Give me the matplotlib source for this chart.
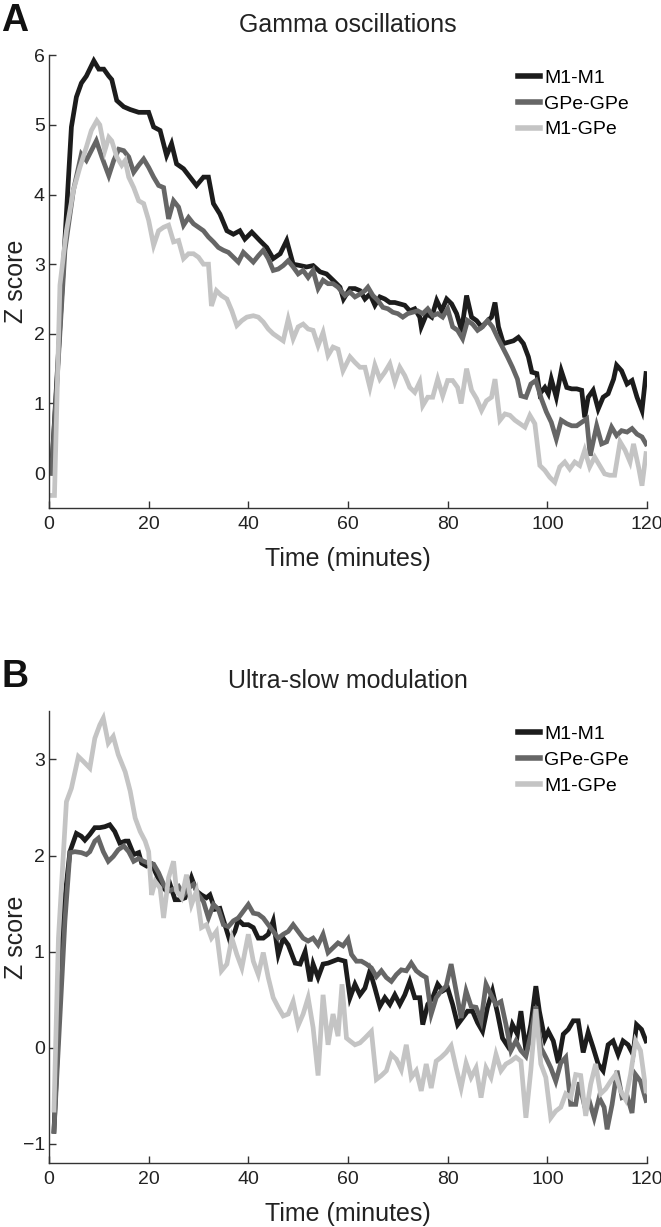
import matplotlib
matplotlib.use("Agg")
import matplotlib.pyplot as plt

plt.rcParams['font.family'] = ['Liberation Sans', 'DejaVu Sans']

# (minutes, z score)
gamma_m1m1 = [(0.5, 0.0), (4.5, 4.97), (5.5, 5.4), (6.5, 5.6), (7.5, 5.7), (9, 5.92), (10, 5.8), (11, 5.8),
              (12, 5.7), (12.6, 5.65), (13.6, 5.35), (15, 5.26), (16.3, 5.22), (18, 5.18), (20, 5.18),
              (21, 4.97), (22.3, 4.92), (23.6, 4.56), (24.6, 4.73), (25.6, 4.44), (27, 4.37), (28.3, 4.25),
              (29.6, 4.13), (31, 4.25), (32, 4.25), (33, 3.87), (34.3, 3.72), (35.7, 3.48), (37, 3.43),
              (38.3, 3.48), (39.3, 3.36), (40.7, 3.46), (42.3, 3.34), (43.7, 3.24), (45, 3.08), (46.4, 3.15),
              (47.7, 3.34), (49, 3.0), (50.4, 2.98), (51.7, 2.96), (53, 2.98), (54.4, 2.89), (55.7, 2.86),
              (57, 2.77), (58.4, 2.67), (59.1, 2.5), (60.4, 2.65), (61.4, 2.65), (62.4, 2.62), (63.4, 2.5),
              (64.4, 2.57), (65.4, 2.41), (66.4, 2.53), (67.4, 2.5), (68.4, 2.45), (69.4, 2.45), (70.4, 2.43),
              (71.4, 2.41), (72.4, 2.33), (73.4, 2.36), (74.4, 2.24), (74.7, 2.1), (75.8, 2.29), (76.8, 2.24),
              (77.8, 2.48), (78.8, 2.33), (79.8, 2.5), (80.8, 2.43), (81.8, 2.29), (82.8, 2.05), (83.8, 2.55),
              (84.8, 2.24), (85.8, 2.19), (86.8, 2.1), (87.8, 2.17), (88.8, 2.24), (89.5, 2.45), (90.2, 2.1),
              (91.2, 1.86), (92.2, 1.88), (93.2, 1.9), (94.2, 1.95), (95.2, 1.86), (96.2, 1.67), (96.9, 1.45),
              (97.9, 1.43), (98.5, 1.14), (99.5, 1.23), (100.2, 1.14), (100.8, 1.35), (101.8, 1.09),
              (102.8, 1.47), (103.9, 1.23), (104.9, 1.21), (105.9, 1.21), (106.9, 1.19), (107.5, 0.8),
              (108.2, 1.09), (109.2, 1.19), (110.2, 0.92), (111.2, 1.09), (112.2, 1.14), (113.3, 1.35),
              (113.9, 1.55), (114.9, 1.47), (116, 1.28), (117, 1.33), (118, 1.09), (119, 0.9), (119.8, 1.43)]

gamma_gpe = [(0.5, 0.0), (3.2, 3.2), (4.9, 4.06), (6.5, 4.58), (7.5, 4.49), (8.5, 4.63), (9.5, 4.77),
             (10.6, 4.54), (12, 4.27), (13, 4.49), (14, 4.65), (15, 4.63), (16, 4.54), (17, 4.32), (18, 4.42),
             (19, 4.51), (20, 4.39), (21, 4.25), (22, 4.13), (23, 4.1), (24, 3.65), (25, 3.91), (26, 3.82),
             (27, 3.56), (28, 3.67), (29, 3.58), (30, 3.53), (31, 3.48), (32, 3.39), (33, 3.32), (34, 3.24),
             (35, 3.2), (36, 3.17), (37, 3.1), (38, 3.03), (39, 3.17), (40, 3.1), (41, 3.03), (42, 3.12),
             (43, 3.2), (44, 3.08), (45, 2.91), (46, 2.93), (47, 2.98), (48, 3.05), (49, 2.96), (50, 2.86),
             (51, 2.91), (52, 2.81), (53, 2.91), (54, 2.65), (55, 2.77), (56, 2.72), (57, 2.72), (58, 2.67),
             (59.4, 2.55), (60.4, 2.6), (61.4, 2.53), (62.4, 2.57), (63.4, 2.62), (64, 2.67), (65, 2.55),
             (66, 2.48), (67, 2.38), (68, 2.36), (69, 2.31), (70, 2.29), (71, 2.24), (72, 2.29), (73, 2.31),
             (74, 2.33), (75, 2.29), (76, 2.36), (77, 2.26), (78, 2.29), (79, 2.24), (80, 2.36), (81, 2.1),
             (82, 2.05), (83, 1.93), (84, 2.19), (85, 2.14), (86, 2.05), (87, 2.1), (88, 2.19), (89, 2.1),
             (90, 1.95), (91, 1.81), (92, 1.67), (93, 1.52), (94, 1.35), (94.7, 1.11), (95.7, 1.09),
             (96.7, 1.28), (97.7, 1.33), (98.8, 1.07), (99.8, 0.88), (100.8, 0.73), (101.8, 0.49),
             (102.8, 0.76), (103.9, 0.71), (104.9, 0.68), (105.9, 0.68), (106.9, 0.73), (107.9, 0.78),
             (108.6, 0.25), (109.2, 0.45), (109.9, 0.68), (110.9, 0.42), (111.9, 0.45), (112.9, 0.66),
             (113.9, 0.54), (114.9, 0.61), (116, 0.59), (117, 0.64), (118, 0.56), (119, 0.52), (119.8, 0.42)]

gamma_cross = [(0.5, -0.32), (1.1, -0.32), (2.2, 2.7), (3.5, 3.48), (4.9, 4.06), (6.2, 4.39), (7.5, 4.68),
               (8.5, 4.92), (9.6, 5.06), (10.2, 5.0), (11.2, 4.63), (12, 4.82), (12.6, 4.77), (13.6, 4.54),
               (14.6, 4.42), (15.3, 4.49), (16, 4.25), (17, 4.1), (18, 3.91), (19, 3.87), (20, 3.63),
               (21, 3.27), (22, 3.48), (23, 3.53), (24, 3.56), (25, 3.32), (26, 3.34), (27, 3.08), (28, 3.15),
               (29, 3.15), (30, 3.1), (31, 3.0), (32, 3.0), (32.6, 2.4), (33.6, 2.62), (34.6, 2.55),
               (35.7, 2.5), (36.7, 2.33), (37.7, 2.12), (38.7, 2.19), (39.7, 2.24), (41, 2.26), (42, 2.24),
               (43, 2.17), (44, 2.07), (45, 2.0), (46, 1.95), (47, 1.9), (48, 2.21), (49, 1.93), (50, 2.1),
               (51, 2.14), (52, 2.07), (53, 2.05), (54, 1.83), (55, 2.02), (56, 1.69), (57, 1.81), (58, 1.78),
               (59, 1.47), (60.4, 1.67), (61.4, 1.59), (62.4, 1.52), (63.4, 1.52), (64.4, 1.23), (65.4, 1.55),
               (66.4, 1.35), (67.4, 1.45), (68.4, 1.57), (69.4, 1.31), (70.4, 1.52), (71.4, 1.4), (72.4, 1.23),
               (73.4, 1.16), (74.4, 1.31), (75, 0.97), (76, 1.09), (77, 1.09), (78, 1.35), (79, 1.11),
               (80, 1.33), (81, 1.33), (82, 1.23), (82.7, 1.0), (83.8, 1.5), (84.8, 1.19), (85.8, 1.07),
               (86.8, 0.9), (87.8, 1.04), (88.8, 1.09), (89.5, 1.35), (90.5, 0.76), (91.5, 0.85), (92.5, 0.83),
               (93.5, 0.76), (94.5, 0.71), (95.5, 0.66), (96.5, 0.83), (97.5, 0.71), (98.5, 0.11), (99.5, 0.04),
               (100.5, -0.06), (101.5, -0.13), (102.5, 0.09), (103.5, 0.16), (104.5, 0.06), (105.5, 0.16),
               (106.5, 0.11), (107.5, 0.33), (108.5, 0.09), (109.5, 0.23), (110.5, 0.11), (111.5, -0.01),
               (112.5, -0.03), (113.5, -0.03), (114.6, 0.45), (115.6, 0.33), (116.6, 0.16), (117.3, 0.42),
               (118.3, 0.09), (119, -0.18), (119.8, 0.28)]

slow_m1m1 = [(1, -0.87), (2.9, 1.42), (4.2, 2.04), (5.5, 2.23), (6.5, 2.2), (7.2, 2.16), (8.2, 2.22),
             (9.2, 2.29), (10.2, 2.29), (11.2, 2.3), (12.2, 2.32), (13.2, 2.25), (14.2, 2.13), (15.3, 2.15),
             (15.9, 2.15), (17, 2.01), (18, 2.03), (18.6, 1.92), (19.6, 1.89), (20.6, 1.91), (21.6, 1.8),
             (22.6, 1.68), (23.6, 1.63), (24.3, 1.7), (25.3, 1.54), (26.3, 1.54), (27.3, 1.56), (28.6, 1.77),
             (29.6, 1.63), (30.6, 1.59), (31.6, 1.56), (32.3, 1.59), (33.3, 1.44), (34.3, 1.45), (35.3, 1.28),
             (36.3, 1.11), (37.3, 1.21), (38, 1.33), (39, 1.28), (40, 1.28), (41, 1.25), (42, 1.14),
             (43, 1.14), (44, 1.18), (45, 1.32), (46, 0.97), (47, 1.14), (48, 1.07), (49.4, 0.88),
             (50.4, 0.87), (51.4, 1.0), (52.4, 0.69), (53, 0.87), (54, 0.73), (55, 0.87), (56, 0.88),
             (57, 0.9), (58, 0.92), (59.4, 0.9), (60.4, 0.52), (61.4, 0.66), (62.4, 0.55), (63.4, 0.62),
             (64.4, 0.8), (65.4, 0.62), (66.4, 0.43), (67.4, 0.52), (68.4, 0.45), (69.4, 0.55), (70.4, 0.45),
             (71.4, 0.55), (72.4, 0.69), (73.4, 0.52), (74.4, 0.52), (75, 0.24), (76, 0.45), (77, 0.52),
             (78, 0.66), (79, 0.59), (80, 0.62), (81, 0.45), (82, 0.24), (83, 0.31), (84, 0.38), (85, 0.38),
             (86, 0.26), (87, 0.17), (88, 0.42), (89, 0.59), (90, 0.36), (91, 0.1), (92, 0.02), (93, 0.24),
             (94, 0.14), (94.7, 0.38), (95.7, -0.03), (96.7, 0.24), (97.7, 0.64), (98.4, 0.38), (99.5, 0.09),
             (100.2, 0.17), (101.2, 0.07), (102.2, -0.16), (103.2, 0.14), (104.2, 0.19), (105.2, 0.28),
             (106.2, 0.28), (107.2, -0.05), (108.2, 0.16), (109.2, 0.0), (110.2, -0.17), (111.2, -0.24),
             (112.2, 0.03), (113.2, 0.07), (114.2, -0.07), (115.2, 0.07), (116.2, 0.03), (117.2, -0.07),
             (117.9, 0.24), (118.9, 0.19), (119.8, 0.07)]

slow_gpe = [(1, -0.87), (3.2, 1.32), (4.2, 2.03), (5.2, 2.04), (6.5, 2.03), (7.5, 2.01), (8.2, 2.04),
            (9.2, 2.15), (9.9, 2.18), (10.9, 2.04), (11.9, 1.94), (12.9, 1.99), (13.9, 2.06), (15, 2.1),
            (16, 2.04), (17, 1.94), (18, 1.97), (19, 1.94), (20, 1.92), (21, 1.91), (22, 1.82), (23, 1.7),
            (24, 1.63), (25, 1.65), (26, 1.68), (27, 1.59), (28, 1.66), (29, 1.7), (30, 1.59), (31, 1.52),
            (32, 1.35), (33, 1.49), (34, 1.44), (35, 1.28), (36, 1.26), (37, 1.32), (38, 1.35), (39, 1.42),
            (40, 1.49), (41, 1.4), (42, 1.39), (43, 1.35), (44, 1.28), (45, 1.21), (46, 1.14), (47, 1.18),
            (48, 1.21), (49, 1.28), (50, 1.21), (51, 1.14), (52, 1.11), (53, 1.14), (54, 1.07), (55, 1.18),
            (56, 0.99), (57, 1.04), (58, 1.09), (59, 1.06), (60, 1.13), (60.7, 0.97), (61.7, 0.9),
            (62.7, 0.9), (63.7, 0.87), (64.7, 0.83), (65.7, 0.74), (66.7, 0.8), (67.7, 0.73), (68.7, 0.69),
            (69.7, 0.76), (70.7, 0.81), (71.7, 0.8), (72.7, 0.88), (73.7, 0.8), (74.7, 0.76), (75.7, 0.73),
            (76.7, 0.35), (77.7, 0.52), (78.7, 0.59), (79.7, 0.64), (80.7, 0.87), (81.7, 0.59), (82.7, 0.31),
            (83.7, 0.59), (84.7, 0.43), (85.7, 0.42), (86.7, 0.28), (87.7, 0.66), (88.7, 0.55), (89.7, 0.45),
            (90.7, 0.48), (91.7, 0.24), (92.7, -0.03), (93.7, 0.07), (94.7, -0.03), (95.7, -0.09),
            (96.7, 0.14), (97.7, 0.43), (98.7, 0.0), (99.7, -0.1), (100.7, -0.21), (101.7, -0.35),
            (102.7, -0.16), (103.7, -0.1), (104.7, -0.59), (105.7, -0.59), (106.4, -0.36), (107.4, -0.59),
            (108.4, -0.55), (109.4, -0.73), (110.4, -0.52), (111.4, -0.62), (112, -0.85), (113, -0.59),
            (114, -0.24), (115, -0.52), (116, -0.5), (117, -0.68), (117.7, -0.28), (118.7, -0.35),
            (119.8, -0.55)]

slow_cross = [(1, -0.65), (1.9, 1.14), (3.5, 2.56), (4.5, 2.7), (5.9, 3.03), (6.9, 2.98), (8.2, 2.91),
              (9.2, 3.22), (10.2, 3.36), (10.9, 3.43), (11.9, 3.17), (12.9, 3.24), (13.9, 3.05), (15.3, 2.87),
              (16.3, 2.67), (17.3, 2.39), (18.3, 2.25), (19.3, 2.15), (20, 2.04), (20.6, 1.59), (21.3, 1.73),
              (22.3, 1.66), (23, 1.35), (24, 1.77), (25, 1.94), (25.6, 1.63), (26.6, 1.56), (27.6, 1.8),
              (28.6, 1.49), (29.6, 1.63), (30.6, 1.25), (31.6, 1.28), (32.6, 1.14), (33.6, 1.21), (34.6, 0.8),
              (35.7, 0.87), (36.7, 1.14), (37.7, 0.97), (38.7, 0.83), (40, 1.18), (41, 0.9), (42, 0.76),
              (43, 0.99), (44, 0.73), (45, 0.52), (46, 0.42), (47, 0.33), (48, 0.35), (49, 0.48), (50, 0.23),
              (51, 0.35), (52, 0.52), (53, 0.21), (54, -0.29), (55, 0.55), (56, 0.03), (57, 0.35), (58, 0.12),
              (58.8, 0.66), (59.7, 0.1), (60.4, 0.07), (61.4, 0.03), (62.4, 0.05), (63.4, 0.1), (64.7, 0.17),
              (65.7, -0.33), (66.7, -0.29), (67.7, -0.24), (68.7, -0.07), (69.7, -0.12), (70.7, -0.23),
              (71.7, 0.03), (72.7, -0.31), (73.7, -0.24), (74.7, -0.45), (75.7, -0.17), (76.7, -0.42),
              (77.7, -0.14), (78.7, -0.1), (79.7, -0.05), (80.7, 0.02), (81.7, -0.21), (82.7, -0.42),
              (83.7, -0.16), (84.7, -0.31), (85.7, -0.21), (86.7, -0.52), (87.7, -0.21), (88.7, -0.31),
              (89.7, -0.07), (90.7, -0.24), (91.7, -0.17), (92.7, -0.14), (93.7, -0.1), (94.7, -0.14),
              (95.7, -0.73), (96.7, -0.23), (97.7, 0.4), (98.7, -0.17), (99.7, -0.31), (100.7, -0.73),
              (101.7, -0.66), (102.7, -0.62), (103.7, -0.48), (104.7, -0.52), (105.7, -0.28), (106.7, -0.29),
              (107.7, -0.71), (108.7, -0.38), (109.7, -0.17), (110.7, -0.48), (111.7, -0.43), (112.7, -0.35),
              (113.7, -0.28), (114.7, -0.45), (115.7, -0.54), (116.7, -0.28), (117.7, 0.07), (118.7, -0.03),
              (119.8, -0.45)]

labels = ['M1-M1', 'GPe-GPe', 'M1-GPe']
colors = ['#1c1c1c', '#666666', '#c4c4c4']

panels = [
    ('A', 'Gamma oscillations', [gamma_m1m1, gamma_gpe, gamma_cross], (-0.5, 6), [0, 1, 2, 3, 4, 5, 6]),
    ('B', 'Ultra-slow modulation', [slow_m1m1, slow_gpe, slow_cross], (-1.2, 3.5), [-1, 0, 1, 2, 3]),
]
ax_rects = [[0.0741, 0.586, 0.9047, 0.369], [0.0741, 0.0522, 0.9047, 0.368]]
text_col = '#222222'

fig = plt.figure(figsize=(6.61, 12.27), dpi=100)

for (letter, title, series, ylim, yticks), rect in zip(panels, ax_rects):
    ax = fig.add_axes(rect)
    for data, lab, col in zip(series, labels, colors):
        t, z = zip(*data)
        ax.plot(t, z, color=col, lw=3.4, label=lab, solid_joinstyle='miter')
    ax.set_xlim(0, 120)
    ax.set_ylim(*ylim)
    ax.set_xticks([0, 20, 40, 60, 80, 100, 120])
    ax.set_yticks(yticks)
    ax.spines['top'].set_visible(False)
    ax.spines['right'].set_visible(False)
    for s in ('left', 'bottom'):
        ax.spines[s].set_color('#333333')
        ax.spines[s].set_linewidth(1.0)
    ax.tick_params(direction='in', length=5, width=1.0, color='#333333', labelsize=14,
                   labelcolor=text_col)
    ax.tick_params(axis='x', pad=6)
    ax.tick_params(axis='y', pad=3)
    ax.set_xlabel('Time (minutes)', fontsize=18, color=text_col, labelpad=10)
    ax.set_ylabel('Z score', fontsize=18, color=text_col, va='center')
    ax.yaxis.set_label_coords(-0.055, 0.5)
    leg = ax.legend(loc='upper left', bbox_to_anchor=(0.772, 0.986), frameon=False, fontsize=14,
                    handlelength=1.1, handletextpad=0.22, labelspacing=0.42, borderaxespad=0)
    for h in leg.get_lines():
        h.set_linewidth(4.0)

    top_px = (1 - rect[1] - rect[3]) * 1227
    fig.text(rect[0] + rect[2] / 2, 1 - (top_px - 30) / 1227, title, ha='center', va='center',
             fontsize=18, color=text_col)
    fig.text(0.002, 1 - (top_px - 34) / 1227, letter, ha='left', va='center', fontsize=27,
             fontweight='bold', color='#111111')

fig.savefig('out.png', dpi=100)
